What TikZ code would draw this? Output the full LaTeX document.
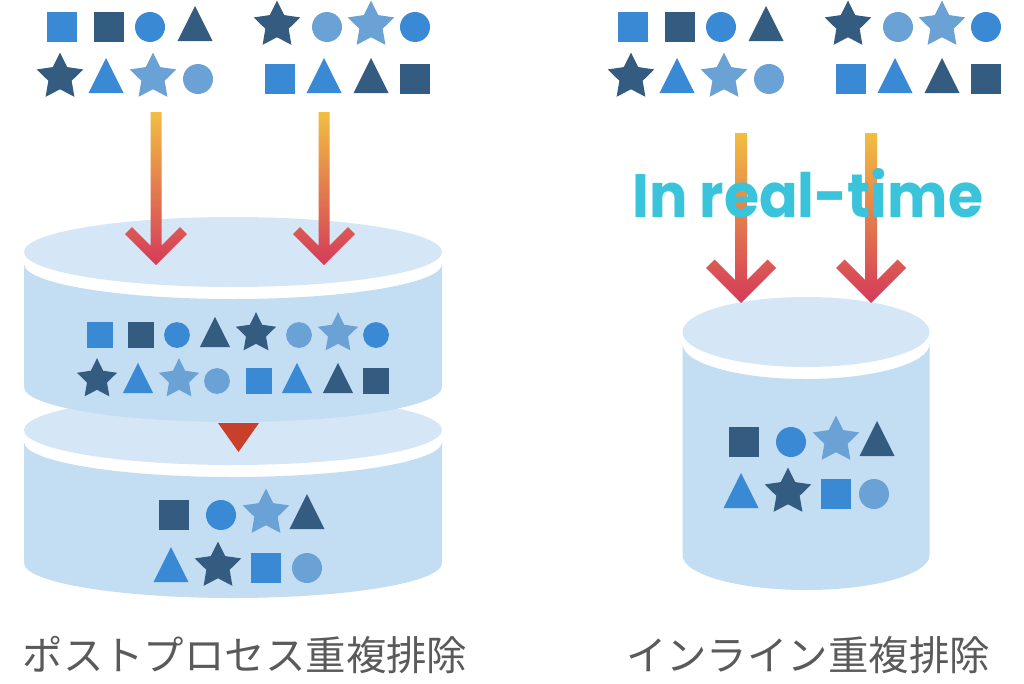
\documentclass[tikz,border=0pt]{standalone}
\usepackage{fontspec}
\usetikzlibrary{calc}
\newfontfamily\jpfont{Noto Sans CJK JP}
\newfontfamily\popfont{Poppins}
\definecolor{bmid}{HTML}{3A89D4}
\definecolor{bdark}{HTML}{345B80}
\definecolor{blight}{HTML}{6AA2D6}
\definecolor{cyltop}{HTML}{D5E7F6}
\definecolor{cylside}{HTML}{C3DDF3}
\definecolor{dedupred}{HTML}{C8402A}
\definecolor{rtcyan}{HTML}{3AC4DC}
\definecolor{lblgrey}{HTML}{5A5A5A}
\definecolor{arrtop}{HTML}{F2BE40}
\definecolor{arrmid}{HTML}{E58A4C}
\definecolor{arrbot}{HTML}{D53A5A}
% small icons: colour, x, y, scale
\newcommand{\icsq}[4]{\fill[#1] (#2-15*#4,#3-15*#4) rectangle (#2+15*#4,#3+15*#4);}
\newcommand{\icci}[4]{\fill[#1] (#2,#3) circle[radius=15*#4];}
\newcommand{\ictri}[4]{\fill[#1] (#2-17.5*#4,#3+14*#4) -- (#2,#3-21*#4) -- (#2+17.5*#4,#3+14*#4) -- cycle;}
\newcommand{\icst}[4]{\fill[#1] plot[variable=\k,samples at={0,...,9}]
  ({#2+24.5*#4*(1-0.5*mod(\k,2))*cos(-90+36*\k)},{#3-2*#4+24.5*#4*(1-0.5*mod(\k,2))*sin(-90+36*\k)}) -- cycle;}
\newcommand{\icon}[5]{\csname ic#1\endcsname{#2}{#3}{#4}{#5}}
% one tier of a cylinder: cx, top y, bottom y, rx, ry
\newcommand{\tier}[5]{%
  \fill[cylside] (#1-#4,#2+12) -- (#1-#4,#3) arc[start angle=180,end angle=0,x radius=#4,y radius=#5]
    -- (#1+#4,#2+12) arc[start angle=0,end angle=180,x radius=#4,y radius=#5] -- cycle;
  \fill[cyltop] (#1,#2) ellipse[x radius=#4,y radius=#5];}
% downward arrow: x, top y, tip y, arm, half width, arm offset
\newcommand{\dnarrow}[6]{%
  \shade[top color=arrtop,middle color=arrmid,bottom color=arrbot]
    (#1,#3) -- (#1-#4,#3-#4) -- (#1-#4+#6,#3-#4-#6) -- (#1-#5,#3-2*#6-#5) -- (#1-#5,#2)
    -- (#1+#5,#2) -- (#1+#5,#3-2*#6-#5) -- (#1+#4-#6,#3-#4-#6) -- (#1+#4,#3-#4) -- cycle;}

\begin{document}
\begin{tikzpicture}[x=0.02cm,y=-0.02cm,
  lbl/.style={font=\jpfont\fontsize{23pt}{23pt}\selectfont,text=lblgrey,inner sep=0}]
\useasboundingbox (0,0) rectangle (1024,683);

% incoming data, both sides
\foreach \t/\c/\px in {sq/bmid/62,sq/bdark/109,ci/bmid/150,tri/bdark/195,st/bdark/277,ci/blight/327,st/blight/371,ci/bmid/415}
  {\icon{\t}{\c}{\px}{27}{1} \icon{\t}{\c}{\px+571}{27}{1}}
\foreach \t/\c/\px in {st/bdark/60,tri/bmid/106,st/blight/153,ci/blight/198,sq/bmid/280,tri/bmid/324,tri/bdark/371,sq/bdark/415}
  {\icon{\t}{\c}{\px}{79}{1} \icon{\t}{\c}{\px+571}{79}{1}}

% post-process: two tiers
\tier{233}{430}{563}{209}{35}
\tier{233}{252}{387}{209}{35}
\fill[dedupred] (218,423) -- (259,423) -- (238.5,452) -- cycle;
\foreach \t/\c/\px in {sq/bmid/100,sq/bdark/141,ci/bmid/177,tri/bdark/215,st/bdark/256,ci/blight/299,st/blight/338,ci/bmid/376}
  {\icon{\t}{\c}{\px}{335}{0.86}}
\foreach \t/\c/\px in {st/bdark/97,tri/bmid/138,st/blight/179,ci/blight/217,sq/bmid/259,tri/bmid/297,tri/bdark/338,sq/bdark/376}
  {\icon{\t}{\c}{\px}{381}{0.86}}
\foreach \t/\c/\px in {sq/bdark/174,ci/bmid/221,st/blight/266,tri/bdark/307}
  {\icon{\t}{\c}{\px}{515}{1}}
\foreach \t/\c/\px in {tri/bmid/171,st/bdark/218,sq/bmid/266,ci/blight/307}
  {\icon{\t}{\c}{\px}{568}{1}}
\dnarrow{156}{112}{265}{31}{5.5}{7}
\dnarrow{324}{112}{265}{31}{5.5}{7}

% inline: one tier
\tier{806}{332}{555}{123.5}{35}
\foreach \t/\c/\px in {sq/bdark/744,ci/bmid/791,st/blight/836,tri/bdark/877}
  {\icon{\t}{\c}{\px}{442}{1}}
\foreach \t/\c/\px in {tri/bmid/741,st/bdark/788,sq/bmid/836,ci/blight/874}
  {\icon{\t}{\c}{\px}{494}{1}}
\dnarrow{741}{133}{303}{35}{6}{8.5}
\dnarrow{871}{133}{303}{35}{6}{8.5}
\node[anchor=base west,inner sep=0] (realtime) at (632,217)
  {\resizebox{7.02cm}{0.98cm}{\textcolor{rtcyan}{\popfont\bfseries In real-time}}};

\node[lbl] (postlbl) at (245,655) {ポストプロセス重複排除};
\node[lbl] (inlbl) at (808,655) {インライン重複排除};
\end{tikzpicture}
\end{document}
